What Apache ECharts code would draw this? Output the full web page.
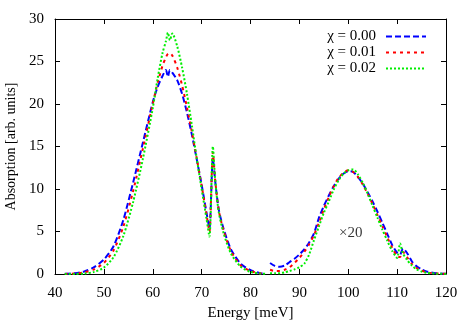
<!DOCTYPE html>
<html>
<head>
<meta charset="utf-8">
<script src="https://cdn.jsdelivr.net/npm/echarts@6/dist/echarts.min.js"></script>
<style>
  html, body { margin: 0; padding: 0; background: #fff; }
  #chart { width: 463px; height: 324px; }
</style>
</head>
<body>
<div id="chart"></div>
<script>
// energy grid (meV): low-energy band and the x20 band
const energyLow = [42, 44, 46, 48, 50, 52, 54, 56, 58, 60, 61, 62, 62.7, 63.1, 63.5, 64, 65, 66, 67, 68, 69, 70, 71, 71.6, 72.3, 72.8, 73.5, 74.5, 76, 78, 80, 82, 83];
const energyHigh = [84, 85, 86, 87, 88, 89, 90, 91, 92, 93, 94, 95, 96, 97, 98, 99, 100, 101, 102, 103, 104, 105, 106, 107, 108, 109, 110, 110.6, 111.2, 112, 113, 114, 115, 116, 118, 120];

// chi = 0.00
const chi000Low = [0.02, 0.1, 0.3, 0.8, 1.7, 3.3, 6.4, 10.8, 15.5, 20.2, 22.0, 23.3, 24.0, 23.2, 24.0, 23.7, 22.8, 21.2, 19.0, 16.4, 13.5, 10.5, 7.2, 5.4, 13.6, 10.8, 7.6, 5.3, 2.9, 1.2, 0.45, 0.1, 0.05];
const chi000High = [1.3, 0.95, 0.85, 1.0, 1.4, 1.8, 2.3, 2.9, 3.7, 4.8, 6.6, 8.0, 9.2, 10.3, 11.2, 11.8, 12.1, 12.0, 11.4, 10.6, 9.6, 8.5, 7.3, 6.0, 4.7, 3.4, 2.5, 2.3, 3.0, 2.5, 1.5, 0.9, 0.55, 0.3, 0.1, 0.03];
// chi = 0.01
const chi001Low = [0.01, 0.05, 0.2, 0.55, 1.3, 2.8, 5.6, 9.8, 14.8, 20.0, 22.5, 24.5, 25.5, 25.9, 26.0, 25.7, 24.3, 22.2, 19.6, 16.7, 13.6, 10.4, 7.0, 5.0, 14.3, 10.9, 7.5, 5.1, 2.7, 1.0, 0.35, 0.08, 0.03];
const chi001High = [0.5, 0.35, 0.35, 0.5, 0.8, 1.3, 1.9, 2.6, 3.5, 4.6, 6.0, 7.6, 9.0, 10.3, 11.3, 11.9, 12.2, 12.0, 11.4, 10.5, 9.4, 8.2, 6.9, 5.6, 4.3, 3.1, 2.1, 2.0, 2.6, 2.0, 1.2, 0.7, 0.4, 0.2, 0.06, 0.02];
// chi = 0.02
const chi002Low = [0.0, 0.01, 0.05, 0.25, 0.75, 2.0, 4.5, 8.5, 13.6, 19.5, 23.0, 26.0, 27.4, 28.4, 27.5, 28.3, 26.8, 24.3, 21.2, 17.5, 13.6, 10.0, 6.5, 4.4, 15.0, 10.9, 7.3, 4.8, 2.4, 0.85, 0.25, 0.05, 0.02];
const chi002High = [0.1, 0.08, 0.1, 0.2, 0.35, 0.55, 0.8, 1.2, 2.3, 4.0, 5.6, 7.2, 8.5, 9.9, 11.0, 11.8, 12.2, 12.3, 11.7, 10.7, 9.4, 8.0, 6.6, 5.2, 3.9, 2.7, 1.9, 3.6, 2.4, 1.7, 1.0, 0.55, 0.3, 0.15, 0.04, 0.01];

const seriesNames = ['χ = 0.00', 'χ = 0.01', 'χ = 0.02'];
const xTicks = [40, 120, 10];   // min, max, step
const yTicks = [0, 30, 5];
const scaleNote = '×20';
const scaleNoteAt = [100.5, 4.8];

const font = '"Liberation Serif", "DejaVu Serif", serif';

// join both bands, with a break between them
const joinBands = (low, high) => {
    let pts = energyLow.map((e, i) => [e, low[i]]);
    pts.push([83.5, '-']);
    energyHigh.forEach((e, i) => pts.push([e, high[i]]));
    return pts;
};

const mkLine = (name, data, color, dash) => ({
    name: name,
    type: 'line',
    data: data,
    showSymbol: false,
    symbol: 'none',
    smooth: 0.25,
    connectNulls: false,
    lineStyle: { color: color, width: 2, type: dash },
    itemStyle: { color: color },
});

const mkX = (pos) => ({
    type: 'value',
    position: pos,
    min: xTicks[0], max: xTicks[1], interval: xTicks[2],
    axisLine: { show: true, onZero: false, lineStyle: { color: '#000', width: 1 } },
    axisTick: { show: true, inside: true, length: 5, lineStyle: { color: '#000' } },
    axisLabel: { show: pos === 'bottom', color: '#000', fontFamily: font, fontSize: 15, margin: 12 },
    splitLine: { show: false },
});

const mkY = (pos) => ({
    type: 'value',
    position: pos,
    min: yTicks[0], max: yTicks[1], interval: yTicks[2],
    axisLine: { show: true, onZero: false, lineStyle: { color: '#000', width: 1 } },
    axisTick: { show: true, inside: true, length: 5, lineStyle: { color: '#000' } },
    axisLabel: { show: pos === 'left', color: '#000', fontFamily: font, fontSize: 15, margin: 11 },
    splitLine: { show: false },
});

let chart = echarts.init(document.getElementById('chart'), null, { renderer: 'canvas' });

let xBottom = mkX('bottom');
xBottom.name = 'Energy [meV]';
xBottom.nameLocation = 'middle';
xBottom.nameGap = 32;
xBottom.nameTextStyle = { color: '#000', fontFamily: font, fontSize: 15 };

let yLeft = mkY('left');
yLeft.name = 'Absorption [arb. units]';
yLeft.nameLocation = 'middle';
yLeft.nameGap = 37;
yLeft.nameTextStyle = { color: '#000', fontFamily: font, fontSize: 14 };

let option = {
    animation: false,
    backgroundColor: '#fff',
    grid: { left: 55, right: 17, top: 19, bottom: 50, containLabel: false, outerBoundsMode: 'none' },
    xAxis: [xBottom, mkX('top')],
    yAxis: [yLeft, mkY('right')],
    legend: {
        data: seriesNames,
        orient: 'vertical',
        align: 'right',
        right: 31,
        top: 24,
        itemWidth: 40,
        itemHeight: 14,
        itemGap: 1,
        itemStyle: { opacity: 0 },
        textStyle: { color: '#000', fontFamily: font, fontSize: 15, padding: [0, 5, 0, 0] },
    },
    series: [
        mkLine(seriesNames[0], joinBands(chi000Low, chi000High), '#0000ff', [6, 3]),
        mkLine(seriesNames[1], joinBands(chi001Low, chi001High), '#ff0000', [3, 4]),
        mkLine(seriesNames[2], joinBands(chi002Low, chi002High), '#00ee00', [2, 2]),
        {
            name: 'note',
            type: 'scatter',
            data: [scaleNoteAt],
            symbolSize: 0,
            silent: true,
            label: {
                show: true,
                position: 'inside',
                formatter: scaleNote,
                color: '#000',
                fontFamily: font,
                fontSize: 15,
            },
        },
    ],
};

chart.setOption(option);
</script>
</body>
</html>
